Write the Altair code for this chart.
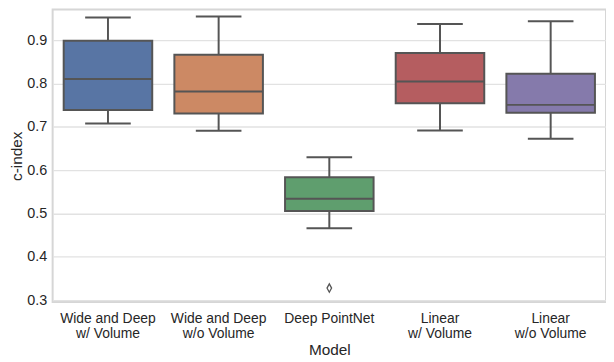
import altair as alt
import pandas as pd

models = ["Wide and Deep\nw/ Volume", "Wide and Deep\nw/o Volume", "Deep PointNet",
          "Linear\nw/ Volume", "Linear\nw/o Volume"]
lower = [0.708, 0.691, 0.466, 0.692, 0.673]
q1 = [0.739, 0.731, 0.506, 0.755, 0.733]
median = [0.811, 0.782, 0.534, 0.805, 0.751]
q3 = [0.899, 0.867, 0.584, 0.871, 0.823]
upper = [0.953, 0.955, 0.630, 0.938, 0.944]
colors = ["#5875a4", "#cc8964", "#5f9e6e", "#b55d60", "#857aab"]
outlier_model = ["Deep PointNet"]
outlier_value = [0.328]
y_ticks = [0.3, 0.4, 0.5, 0.6, 0.7, 0.8, 0.9]

df = pd.DataFrame({"model": models, "lower": lower, "q1": q1, "median": median,
                   "q3": q3, "upper": upper})
out = pd.DataFrame({"model": outlier_model, "value": outlier_value})

LINE = "#555555"
FONT = "Liberation Sans"

xscale = alt.Scale(domain=models, paddingInner=0.2, paddingOuter=0.1)
yscale = alt.Scale(domain=[0.2958, 0.9713], nice=False, zero=False)

x = alt.X("model:N", sort=models, scale=xscale,
          axis=alt.Axis(title="Model", labelAngle=0, ticks=False, domain=False, grid=False,
                        labelExpr="split(datum.value, '\\n')", labelFontSize=14,
                        labelLineHeight=15, labelPadding=10, titleFontSize=15.5,
                        titlePadding=2, labelColor="#262626", titleColor="#262626",
                        titleFontWeight="normal", labelFont=FONT, titleFont=FONT))
yaxis = alt.Axis(title="c-index", values=y_ticks, format=".1f", ticks=False, domain=False,
                 grid=True, gridColor="#e2e2e2", gridWidth=1.3, labelFontSize=14.5,
                 labelPadding=6, titleFontSize=15.5, titlePadding=2, labelColor="#262626",
                 titleColor="#262626", titleFontWeight="normal", labelFont=FONT,
                 titleFont=FONT)

base = alt.Chart(df)

whisker = base.mark_rule(color=LINE, strokeWidth=2).encode(
    x=x, y=alt.Y("lower:Q", scale=yscale, axis=yaxis), y2="upper:Q")
caps_lo = base.mark_tick(color=LINE, size=46, thickness=2, opacity=1).encode(
    x=x, y=alt.Y("lower:Q", scale=yscale))
caps_hi = base.mark_tick(color=LINE, size=46, thickness=2, opacity=1).encode(
    x=x, y=alt.Y("upper:Q", scale=yscale))
box = base.mark_bar(stroke=LINE, strokeWidth=2, opacity=1).encode(
    x=x, y=alt.Y("q1:Q", scale=yscale), y2="q3:Q",
    color=alt.Color("model:N", scale=alt.Scale(domain=models, range=colors), legend=None))
med = base.mark_tick(color=LINE, size=89, thickness=2, opacity=1).encode(
    x=x, y=alt.Y("median:Q", scale=yscale))
outl = alt.Chart(out).mark_point(shape="M0,-1L0.55,0L0,1L-0.55,0Z", filled=False,
                                  color=LINE, size=70, strokeWidth=1.3, opacity=1).encode(
    x=alt.X("model:N", sort=models, scale=xscale),
    y=alt.Y("value:Q", scale=yscale))

chart = alt.layer(whisker, caps_lo, caps_hi, box, med, outl).properties(
    width=558, height=295,
    autosize=alt.AutoSizeParams(type="none"),
    padding={"left": 45, "top": 0, "right": 0, "bottom": 58},
    background="white",
).configure_view(stroke="#d6d6d6", strokeWidth=2)

chart.save("out.html", embed_options={"renderer": "svg", "actions": False})
